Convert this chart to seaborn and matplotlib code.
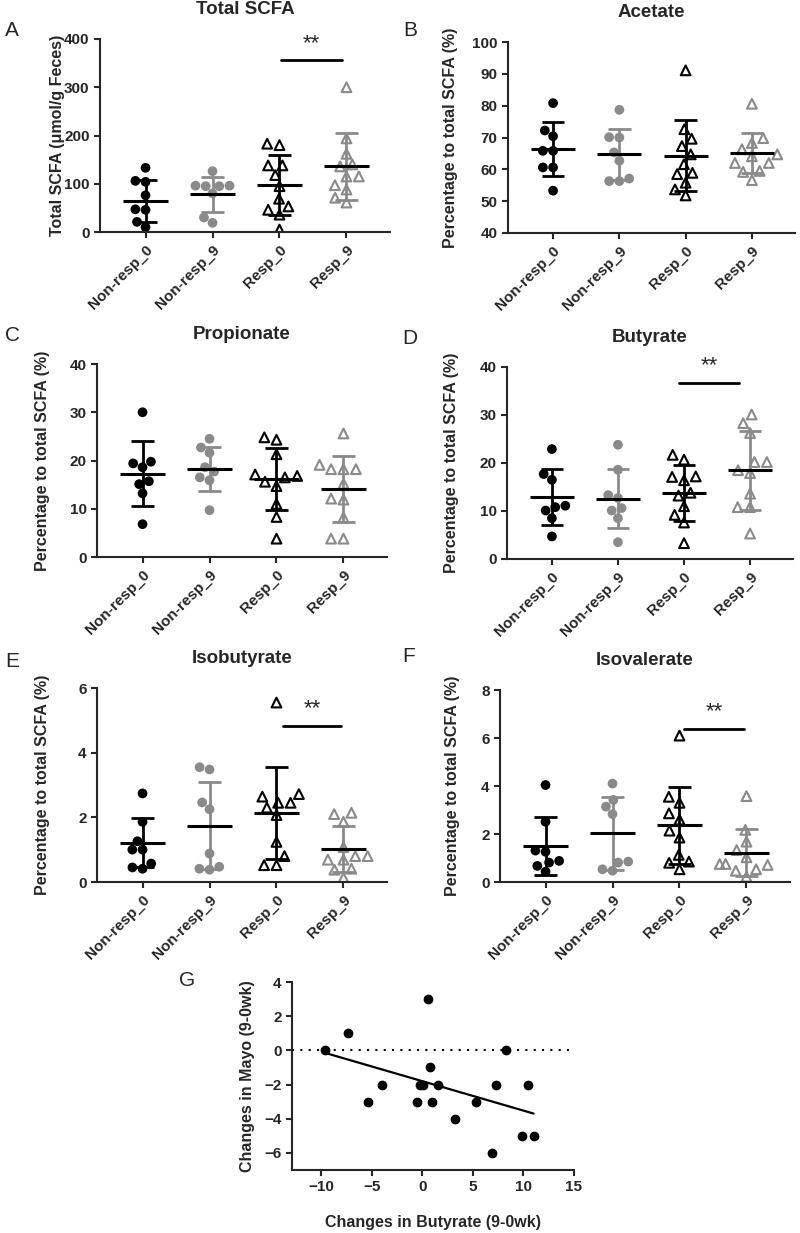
import numpy as np
import pandas as pd
import matplotlib
matplotlib.use("Agg")
import matplotlib.pyplot as plt
import seaborn as sns

# groups shown on every dot plot
groups = ['Non-resp_0', 'Non-resp_9', 'Resp_0', 'Resp_9']

# values per group
total_scfa = [[133, 106, 104, 76, 47, 46, 21, 10],
              [126, 96, 95, 96, 95, 80, 30, 19],
              [183, 180, 138, 138, 118, 95, 69, 53, 46, 36, 5],
              [300, 194, 162, 140, 136, 115, 115, 97, 88, 71, 61]]
total_scfa_mean = [64, 78, 98, 136]
total_scfa_sd = [43, 36, 62, 69]

acetate = [[80.8, 72.2, 70.4, 65.8, 65.8, 60.6, 60.6, 53.3],
           [78.7, 70.0, 70.1, 65.3, 62.7, 57.1, 56.3, 56.3],
           [91.1, 72.6, 69.6, 67.3, 64.7, 61.6, 58.5, 58.9, 55.8, 53.7, 51.8],
           [80.6, 69.8, 68.3, 66.3, 64.1, 64.7, 62.0, 62.0, 59.2, 59.5, 56.6]]
acetate_mean = [66.4, 64.7, 64.3, 65.2]
acetate_sd = [8.4, 8.0, 11.2, 6.3]

propionate = [[30.0, 19.75, 19.4, 18.6, 15.1, 15.7, 13.2, 6.8],
              [24.5, 22.7, 21.6, 18.6, 16.5, 17.7, 15.9, 9.7],
              [24.3, 24.8, 21.3, 16.8, 17.1, 16.5, 15.6, 14.7, 11.0, 8.3, 3.8],
              [25.6, 18.2, 18.2, 18.2, 19.1, 15.2, 11.9, 12.1, 8.2, 3.8, 3.8]]
propionate_mean = [17.3, 18.2, 16.1, 14.1]
propionate_sd = [6.65, 4.6, 6.4, 6.85]

butyrate = [[22.9, 17.7, 16.5, 10.1, 11.1, 10.8, 8.5, 4.7],
            [23.8, 18.6, 12.7, 13.3, 10.1, 10.6, 8.5, 3.5],
            [20.7, 21.7, 17.1, 17.2, 16.4, 13.2, 13.8, 11.0, 9.2, 7.6, 3.3],
            [30.1, 28.3, 26.25, 20.2, 20.2, 17.9, 18.5, 13.6, 10.8, 10.8, 5.3]]
butyrate_mean = [12.85, 12.6, 13.75, 18.5]
butyrate_sd = [5.8, 6.2, 5.9, 8.2]

isobutyrate = [[2.74, 1.86, 1.26, 1.0, 1.0, 0.57, 0.41, 0.45],
               [3.55, 3.48, 2.25, 2.46, 0.88, 0.47, 0.38, 0.41],
               [5.55, 2.72, 2.45, 2.45, 2.64, 2.30, 2.07, 1.24, 0.80, 0.52, 0.52],
               [2.1, 2.14, 1.86, 1.08, 0.8, 0.69, 0.8, 0.69, 0.41, 0.38, 0.13]]
isobutyrate_mean = [1.22, 1.74, 2.14, 1.02]
isobutyrate_sd = [0.75, 1.35, 1.42, 0.71]

isovalerate = [[4.04, 2.51, 1.31, 1.26, 0.81, 0.88, 0.67, 0.43],
               [4.1, 3.42, 3.14, 2.83, 0.81, 0.85, 0.47, 0.53],
               [6.1, 3.3, 3.55, 2.86, 2.6, 2.14, 1.85, 1.13, 0.85, 0.8, 0.53],
               [3.58, 2.17, 1.68, 1.33, 1.03, 0.75, 0.75, 0.71, 0.53, 0.47, 0.22]]
isovalerate_mean = [1.5, 2.03, 2.36, 1.22]
isovalerate_sd = [1.22, 1.52, 1.61, 0.97]

# panel G: change from week 0 to week 9
butyrate_change = [-9.6, -7.4, -5.4, -4.0, -0.5, -0.2, 0.05, 0.55, 0.8, 0.95,
                   1.5, 3.2, 5.3, 6.9, 7.3, 8.3, 9.9, 10.4, 11.0]
mayo_change = [0, 1, -3, -2, -3, -2, -2, 3, -1, -3,
               -2, -4, -3, -6, -2, 0, -5, -2, -5]

BLACK = '#000000'
GRAY = '#8a8a8a'
palette = {'Non-resp_0': BLACK, 'Non-resp_9': GRAY, 'Resp_0': BLACK, 'Resp_9': GRAY}

sns.set_style('ticks')
plt.rcParams['font.family'] = ['Liberation Sans', 'DejaVu Sans']
plt.rcParams['axes.linewidth'] = 1.5
plt.rcParams['xtick.major.width'] = 1.5
plt.rcParams['ytick.major.width'] = 1.5
plt.rcParams['xtick.major.size'] = 4
plt.rcParams['ytick.major.size'] = 4

W, H = 800, 1233
fig = plt.figure(figsize=(W / 100, H / 100), dpi=100)


def add_ax(l, t, r, b):
    return fig.add_axes([l / W, 1 - b / H, (r - l) / W, (b - t) / H])


def letter(x, y, s):
    fig.text(x / W, 1 - y / H, s, fontsize=15, ha='center', va='center')


def dot_panel(ax, values, means, sds, title, ylabel, ylim, yticks, labx, sig=None):
    df = pd.DataFrame({'group': [g for g, v in zip(groups, values) for _ in v],
                       'value': [x for v in values for x in v]})
    circles = df[df['group'].str.startswith('Non')]
    triangles = df[df['group'].str.startswith('Resp')]
    sns.swarmplot(data=circles, x='group', y='value', order=groups, hue='group',
                  palette=palette, marker='o', size=7, legend=False, ax=ax,
                  zorder=2)
    n = len(ax.collections)
    sns.swarmplot(data=triangles, x='group', y='value', order=groups, hue='group',
                  palette=palette, marker='^', size=7, legend=False, ax=ax,
                  zorder=2)
    for c in ax.collections[n:]:
        fc = c.get_facecolor()
        c.set_facecolor('none')
        c.set_edgecolor(fc)
        c.set_linewidth(1.5)

    pos = np.arange(len(groups))
    for i, g in enumerate(groups):
        col = palette[g]
        lo, hi = means[i] - sds[i], means[i] + sds[i]
        ax.vlines(pos[i], lo, hi, color=col, lw=2, zorder=3)
        ax.hlines([lo, hi], pos[i] - 0.17, pos[i] + 0.17, color=col, lw=2, zorder=3)
        ax.hlines(means[i], pos[i] - 0.33, pos[i] + 0.33, color=BLACK, lw=2.2, zorder=4)

    if sig is not None:
        x1, x2, y, ys = sig
        ax.plot([x1, x2], [y, y], color=BLACK, lw=2, clip_on=False)
        ax.text((x1 + x2) / 2, ys, '**', ha='center', va='center', fontsize=16,
                clip_on=False)

    ax.set_xlim(-0.68, 3.65)
    ax.set_ylim(*ylim)
    ax.set_yticks(yticks)
    ax.set_xticks(pos)
    ax.set_xticklabels(groups, rotation=45, ha='right', rotation_mode='anchor',
                       fontweight='bold', fontsize=11)
    for t in ax.get_yticklabels():
        t.set_fontweight('bold')
        t.set_fontsize(11)
    ax.set_xlabel('')
    ax.set_ylabel(ylabel, fontweight='bold', fontsize=11.5)
    ax.yaxis.set_label_coords(labx, 0.5)
    ax.set_title(title, fontweight='bold', fontsize=13.5, pad=18)
    sns.despine(ax=ax)


pct_label = 'Percentage to total SCFA (%)'

axA = add_ax(100, 39, 390, 232)
dot_panel(axA, total_scfa, total_scfa_mean, total_scfa_sd, 'Total SCFA',
          'Total SCFA (\u03bcmol/g Feces)', (0, 400), [0, 100, 200, 300, 400],
          -0.12, sig=(2.02, 2.93, 356, 390))
letter(12, 30, 'A')

axB = add_ax(508, 42, 795, 233)
dot_panel(axB, acetate, acetate_mean, acetate_sd, 'Acetate', pct_label,
          (40, 100), [40, 50, 60, 70, 80, 90, 100], -0.174)
letter(410, 30, 'B')

axC = add_ax(97, 364, 387, 557)
dot_panel(axC, propionate, propionate_mean, propionate_sd, 'Propionate', pct_label,
          (0, 40), [0, 10, 20, 30, 40], -0.162)
letter(12, 335, 'C')

axD = add_ax(507, 367, 793, 559)
dot_panel(axD, butyrate, butyrate_mean, butyrate_sd, 'Butyrate', pct_label,
          (0, 40), [0, 10, 20, 30, 40], -0.168, sig=(1.93, 2.83, 36.7, 40.3))
letter(410, 338, 'D')

axE = add_ax(97, 688, 387, 882)
dot_panel(axE, isobutyrate, isobutyrate_mean, isobutyrate_sd, 'Isobutyrate', pct_label,
          (0, 6), [0, 2, 4, 6], -0.162, sig=(2.09, 2.97, 4.81, 5.35))
letter(12, 661, 'E')

axF = add_ax(500, 690, 790, 882)
dot_panel(axF, isovalerate, isovalerate_mean, isovalerate_sd, 'Isovalerate', pct_label,
          (0, 8), [0, 2, 4, 6, 8], -0.138, sig=(2.07, 2.96, 6.36, 7.1))
letter(409, 656, 'F')

# panel G: correlation of changes
axG = add_ax(292, 982, 574, 1170)
axG.axhline(0, color=BLACK, lw=1.5, ls=(0, (1, 3)), zorder=1)
sns.regplot(x=butyrate_change, y=mayo_change, ci=None, truncate=True, ax=axG,
            scatter_kws={'color': BLACK, 's': 36, 'alpha': 1, 'zorder': 3},
            line_kws={'color': BLACK, 'lw': 1.6, 'zorder': 2})
axG.set_xlim(-12.9, 15)
axG.set_ylim(-7, 4)
axG.set_xticks([-10, -5, 0, 5, 10, 15])
axG.set_yticks([-6, -4, -2, 0, 2, 4])
for t in axG.get_xticklabels() + axG.get_yticklabels():
    t.set_fontweight('bold')
    t.set_fontsize(11)
axG.set_xlabel('Changes in Butyrate (9-0wk)', fontweight='bold', fontsize=11.5)
axG.set_ylabel('Changes in Mayo (9-0wk)', fontweight='bold', fontsize=11.5)
axG.xaxis.set_label_coords(0.5, -0.24)
axG.yaxis.set_label_coords(-0.131, 0.5)
sns.despine(ax=axG)
letter(187, 980, 'G')

fig.savefig('out.png', dpi=100)
